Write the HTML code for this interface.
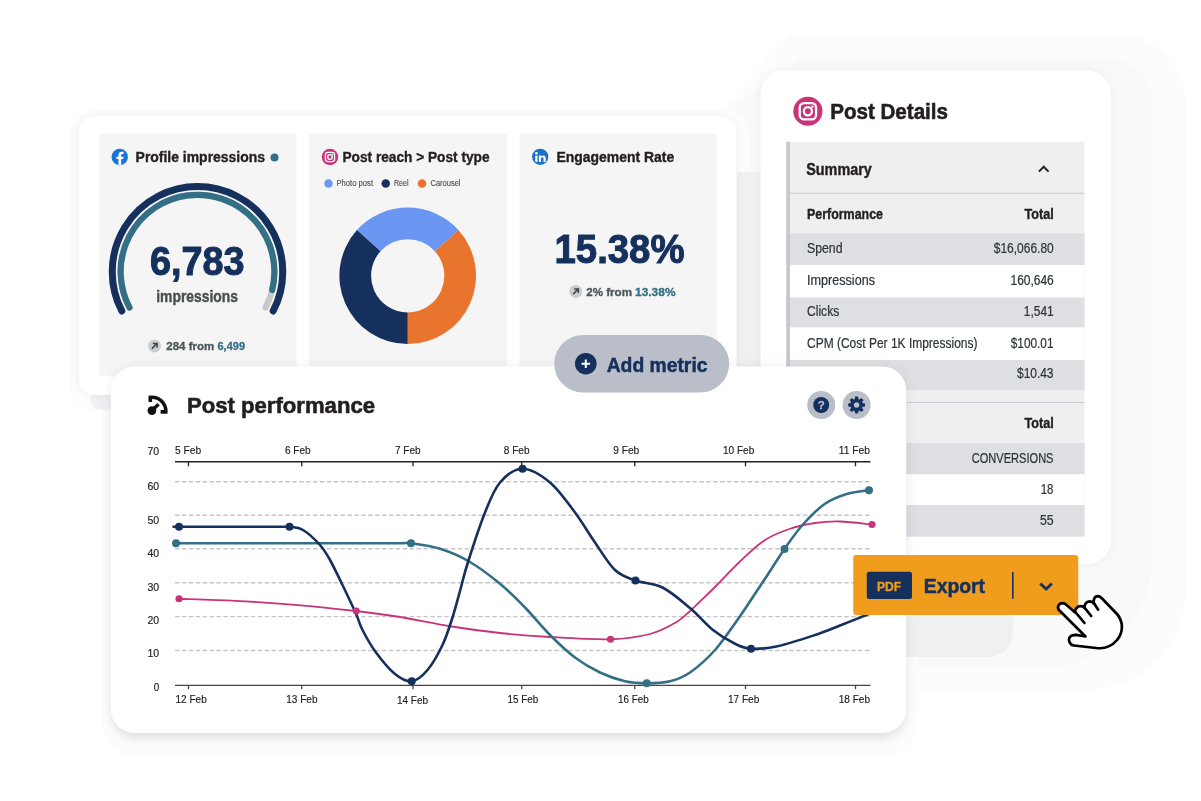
<!DOCTYPE html>
<html lang="en"><head><meta charset="utf-8"><title>Social analytics dashboard</title>
<style>
html,body{margin:0;padding:0;background:#fff;}
body{width:1201px;height:801px;overflow:hidden;position:relative;}
svg{position:absolute;left:0;top:0;display:block;}
text{font-family:"Liberation Sans",sans-serif;}
</style></head><body>
<svg width="1201" height="801" viewBox="0 0 1201 801">
<defs>
<filter id="sh1" x="-10%" y="-10%" width="120%" height="120%"><feGaussianBlur stdDeviation="7"/></filter>
<filter id="sh2" x="-10%" y="-10%" width="120%" height="120%"><feGaussianBlur stdDeviation="5"/></filter>
<filter id="sh3" x="-20%" y="-20%" width="140%" height="140%"><feGaussianBlur stdDeviation="14"/></filter>
</defs>
<rect width="1201" height="801" fill="#fff"/>

<g id="bg-shapes">
<path d="M790 34 H1116 A70 70 0 0 1 1186 104 V590 A100 100 0 0 1 1086 690 H722 V110 Z" fill="#fcfcfd"/>
<path d="M800 58 H1107 A45 45 0 0 1 1152 103 V560 A108 108 0 0 1 1044 668 H735 V104 Z" fill="#f9f9fa"/>
<rect x="70" y="110" width="680" height="300" rx="26" fill="#fcfcfd"/>
<rect x="102" y="356" width="815" height="399" rx="30" fill="#fcfcfd"/>
<path d="M737 172 H1013 V632 A25 25 0 0 1 988 657 H737 Z" fill="#eff0f2"/>
<rect x="91" y="300" width="300" height="110" rx="10" fill="#eff0f2"/>
</g>
<g id="metrics-card">
<rect x="79" y="116" width="657" height="279" rx="16" fill="#000" opacity="0.05" filter="url(#sh2)"/>
<rect x="79" y="116" width="657" height="279" rx="16" fill="#fff"/>
<rect x="99" y="133.75" width="197.5" height="242" fill="#f5f5f5"/>
<rect x="309.25" y="133.75" width="197.5" height="242" fill="#f5f5f5"/>
<rect x="519.5" y="133.75" width="197.5" height="242" fill="#f5f5f5"/>
<g id="panel-impressions">
<circle cx="119.75" cy="157" r="8.2" fill="#1a73d9"/>
<path d="M121.2 165.1 v-6 h2 l0.35 -2.4 h-2.35 v-1.5 c0-0.8 0.3-1.25 1.3-1.25 h1.15 v-2.15 c-0.3-0.05-1.0-0.12-1.85-0.12 c-2.0 0-3.3 1.2-3.3 3.3 v1.72 h-2.1 v2.4 h2.1 v6 z" fill="#fff"/>
<text x="135.60" y="162.00" font-size="13.9" font-weight="bold" fill="#231f20" textLength="129.40" lengthAdjust="spacingAndGlyphs" stroke="#231f20" stroke-width="0.36">Profile impressions</text>
<circle cx="274.5" cy="157.5" r="4" fill="#336f85"/>
<path d="M121.81 310.98 A85.25 85.25 0 1 1 273.19 310.98" fill="none" stroke="#15305c" stroke-width="7" stroke-linecap="round"/>
<path d="M129.48 307.62 A76.9 76.9 0 1 1 265.52 307.62" fill="none" stroke="#c9c9c9" stroke-width="6.2" stroke-linecap="round"/>
<path d="M129.48 307.62 A76.9 76.9 0 1 1 272.21 289.96" fill="none" stroke="#336f85" stroke-width="6.2" stroke-linecap="round"/>
<text x="150.00" y="275.00" font-size="40.9" font-weight="bold" fill="#15305c" textLength="94.50" lengthAdjust="spacingAndGlyphs" stroke="#15305c" stroke-width="1.06">6,783</text>
<text x="156.25" y="302.00" font-size="16.6" font-weight="bold" fill="#4a4f4f" textLength="81.75" lengthAdjust="spacingAndGlyphs" stroke="#4a4f4f" stroke-width="0.43">impressions</text>
<circle cx="154.5" cy="346" r="6.5" fill="#cbccce"/>
<path d="M151.9 348.6 L156.7 343.8 M152.9 343.4 H157.1 V347.6" fill="none" stroke="#3a4646" stroke-width="1.5"/>
<text x="166.25" y="350.00" font-size="11.7" font-weight="bold" fill="#4a5555" textLength="48.00" lengthAdjust="spacingAndGlyphs" stroke="#4a5555" stroke-width="0.30">284 from</text>
<text x="217.50" y="350.00" font-size="11.7" font-weight="bold" fill="#336f85" textLength="27.50" lengthAdjust="spacingAndGlyphs" stroke="#336f85" stroke-width="0.30">6,499</text>
</g>
<g id="panel-reach">
<circle cx="330" cy="157" r="8.25" fill="#c8347a"/>
<rect x="325.40" y="152.40" width="9.20" height="9.20" rx="2.50" fill="none" stroke="#fff" stroke-width="1.30"/>
<circle cx="330" cy="157" r="2.30" fill="none" stroke="#fff" stroke-width="1.30"/>
<circle cx="332.60" cy="154.40" r="0.65" fill="#fff"/>
<text x="342.50" y="162.00" font-size="13.9" font-weight="bold" fill="#231f20" textLength="147.00" lengthAdjust="spacingAndGlyphs" stroke="#231f20" stroke-width="0.36">Post reach &gt; Post type</text>
<circle cx="328.5" cy="183.5" r="4.25" fill="#6b97f2"/>
<text x="336.50" y="186.20" font-size="8.3" fill="#4e4e4e" textLength="36.50" lengthAdjust="spacingAndGlyphs" stroke="#4e4e4e" stroke-width="0.12">Photo post</text>
<circle cx="385.75" cy="183.5" r="4.25" fill="#15305c"/>
<text x="394.00" y="186.20" font-size="8.3" fill="#4e4e4e" textLength="14.50" lengthAdjust="spacingAndGlyphs" stroke="#4e4e4e" stroke-width="0.12">Reel</text>
<circle cx="422" cy="183.5" r="4.25" fill="#e8742e"/>
<text x="430.50" y="186.20" font-size="8.3" fill="#4e4e4e" textLength="30.00" lengthAdjust="spacingAndGlyphs" stroke="#4e4e4e" stroke-width="0.12">Carousel</text>
<path d="M356.94 230.10 A68.3 68.3 0 0 1 458.46 230.10 L434.90 251.31 A36.6 36.6 0 0 0 380.50 251.31 Z" fill="#6b97f2"/>
<path d="M458.46 230.10 A68.3 68.3 0 0 1 407.70 344.10 L407.70 312.40 A36.6 36.6 0 0 0 434.90 251.31 Z" fill="#e8742e"/>
<path d="M407.70 344.10 A68.3 68.3 0 0 1 356.94 230.10 L380.50 251.31 A36.6 36.6 0 0 0 407.70 312.40 Z" fill="#15305c"/>
</g>
<g id="panel-engagement">
<circle cx="540.2" cy="156.8" r="8.15" fill="#1a73c8"/>
<g fill="#fff"><rect x="535.3" y="155.6" width="2.2" height="6.3"/><circle cx="536.4" cy="153.3" r="1.3"/><path d="M538.9 155.6 h2.1 v0.9 c0.45-0.7 1.2-1.1 2.2-1.1 c1.7 0 2.5 1.1 2.5 3.0 v3.5 h-2.2 v-3.1 c0-0.9-0.35-1.45-1.1-1.45 c-0.9 0-1.4 0.6-1.4 1.55 v3.0 h-2.1 z"/></g>
<text x="556.50" y="162.00" font-size="13.9" font-weight="bold" fill="#231f20" textLength="117.75" lengthAdjust="spacingAndGlyphs" stroke="#231f20" stroke-width="0.36">Engagement Rate</text>
<text x="554.50" y="263.00" font-size="40.9" font-weight="bold" fill="#15305c" textLength="130.00" lengthAdjust="spacingAndGlyphs" stroke="#15305c" stroke-width="1.06">15.38%</text>
<circle cx="575.75" cy="291.5" r="6.5" fill="#cbccce"/>
<path d="M573.15 294.1 L577.95 289.3 M574.15 288.9 H578.35 V293.1" fill="none" stroke="#3a4646" stroke-width="1.5"/>
<text x="586.25" y="295.80" font-size="11.7" font-weight="bold" fill="#4a5555" textLength="45.75" lengthAdjust="spacingAndGlyphs" stroke="#4a5555" stroke-width="0.30">2% from</text>
<text x="635.00" y="295.80" font-size="11.7" font-weight="bold" fill="#336f85" textLength="40.50" lengthAdjust="spacingAndGlyphs" stroke="#336f85" stroke-width="0.30">13.38%</text>
</g>
</g>
<g id="post-details">
<rect x="760.5" y="70.5" width="350.5" height="494" rx="24" fill="#000" opacity="0.05" filter="url(#sh2)"/>
<rect x="760.5" y="70.5" width="350.5" height="494" rx="24" fill="#fff"/>
<circle cx="807.9" cy="111.25" r="14.6" fill="#c8347a"/>
<rect x="799.76" y="103.11" width="16.28" height="16.28" rx="4.42" fill="none" stroke="#fff" stroke-width="2.30"/>
<circle cx="807.9" cy="111.25" r="4.07" fill="none" stroke="#fff" stroke-width="2.30"/>
<circle cx="812.50" cy="106.65" r="1.15" fill="#fff"/>
<text x="830.20" y="118.50" font-size="21.4" font-weight="bold" fill="#231f20" textLength="117.80" lengthAdjust="spacingAndGlyphs" stroke="#231f20" stroke-width="0.56">Post Details</text>
<rect x="786.25" y="141.75" width="298.25" height="395" fill="#efefef"/>
<rect x="786.25" y="233.25" width="298.25" height="31.75" fill="#dedfe3"/>
<rect x="786.25" y="265" width="298.25" height="32.5" fill="#fff"/>
<rect x="786.25" y="297.5" width="298.25" height="30.0" fill="#dedfe3"/>
<rect x="786.25" y="327.5" width="298.25" height="32.5" fill="#fff"/>
<rect x="786.25" y="360" width="298.25" height="30" fill="#dedfe3"/>
<rect x="786.25" y="443" width="298.25" height="31.25" fill="#dedfe3"/>
<rect x="786.25" y="474.25" width="298.25" height="30.75" fill="#fff"/>
<rect x="786.25" y="505" width="298.25" height="31.5" fill="#dedfe3"/>
<rect x="786.25" y="141.75" width="3.75" height="394.75" fill="#c6c8cd"/>
<rect x="790.0" y="192.75" width="294.5" height="1" fill="#c9ccd1"/>
<rect x="790.0" y="402" width="294.5" height="1" fill="#c9ccd1"/>
<text x="806.25" y="174.50" font-size="16.3" font-weight="bold" fill="#231f20" textLength="65.50" lengthAdjust="spacingAndGlyphs" stroke="#231f20" stroke-width="0.42">Summary</text>
<path d="M1038.9 171.6 L1043.75 166.7 L1048.6 171.6" fill="none" stroke="#231f20" stroke-width="2"/>
<text x="807.00" y="218.75" font-size="14.5" font-weight="bold" fill="#231f20" textLength="76.00" lengthAdjust="spacingAndGlyphs" stroke="#231f20" stroke-width="0.38">Performance</text>
<text x="1024.50" y="218.75" font-size="14.5" font-weight="bold" fill="#231f20" textLength="29.25" lengthAdjust="spacingAndGlyphs" stroke="#231f20" stroke-width="0.38">Total</text>
<text x="807.00" y="253.25" font-size="13.8" fill="#2c3439" textLength="35.50" lengthAdjust="spacingAndGlyphs" stroke="#2c3439" stroke-width="0.21">Spend</text>
<text x="993.75" y="253.25" font-size="13.8" fill="#2c3439" textLength="60.00" lengthAdjust="spacingAndGlyphs" stroke="#2c3439" stroke-width="0.21">$16,066.80</text>
<text x="807.00" y="285.00" font-size="13.8" fill="#2c3439" textLength="68.00" lengthAdjust="spacingAndGlyphs" stroke="#2c3439" stroke-width="0.21">Impressions</text>
<text x="1010.50" y="285.00" font-size="13.8" fill="#2c3439" textLength="43.25" lengthAdjust="spacingAndGlyphs" stroke="#2c3439" stroke-width="0.21">160,646</text>
<text x="807.00" y="316.25" font-size="13.8" fill="#2c3439" textLength="32.25" lengthAdjust="spacingAndGlyphs" stroke="#2c3439" stroke-width="0.21">Clicks</text>
<text x="1023.75" y="316.00" font-size="13.8" fill="#2c3439" textLength="30.00" lengthAdjust="spacingAndGlyphs" stroke="#2c3439" stroke-width="0.21">1,541</text>
<text x="807.00" y="347.50" font-size="13.8" fill="#2c3439" textLength="170.50" lengthAdjust="spacingAndGlyphs" stroke="#2c3439" stroke-width="0.21">CPM (Cost Per 1K Impressions)</text>
<text x="1010.75" y="347.50" font-size="13.8" fill="#2c3439" textLength="42.75" lengthAdjust="spacingAndGlyphs" stroke="#2c3439" stroke-width="0.21">$100.01</text>
<text x="1017.00" y="378.25" font-size="13.8" fill="#2c3439" textLength="36.50" lengthAdjust="spacingAndGlyphs" stroke="#2c3439" stroke-width="0.21">$10.43</text>
<text x="1024.50" y="427.50" font-size="14.5" font-weight="bold" fill="#231f20" textLength="29.25" lengthAdjust="spacingAndGlyphs" stroke="#231f20" stroke-width="0.38">Total</text>
<text x="971.75" y="462.50" font-size="13.8" fill="#2c3439" textLength="81.75" lengthAdjust="spacingAndGlyphs" stroke="#2c3439" stroke-width="0.21">CONVERSIONS</text>
<text x="1040.75" y="494.00" font-size="13.8" fill="#2c3439" textLength="12.75" lengthAdjust="spacingAndGlyphs" stroke="#2c3439" stroke-width="0.21">18</text>
<text x="1040.00" y="525.00" font-size="13.8" fill="#2c3439" textLength="13.75" lengthAdjust="spacingAndGlyphs" stroke="#2c3439" stroke-width="0.21">55</text>
</g>
<g id="post-performance">
<rect x="110.75" y="366.5" width="795.5" height="366.5" rx="24" fill="#000" opacity="0.06" filter="url(#sh1)"/>
<rect x="112.75" y="380" width="791.5" height="359" rx="24" fill="#000" opacity="0.075" filter="url(#sh2)"/>
<rect x="110.75" y="366.5" width="795.5" height="366.5" rx="24" fill="#fff"/>
<g fill="none" stroke="#111" stroke-width="3.6">
<path d="M150.3 402 V397.3 A13.9 13.9 0 0 1 165.8 411.9 H160.6"/>
<path d="M151.9 410.6 L158.6 404.3" stroke-width="3.4"/>
</g><circle cx="151.9" cy="410.6" r="4.4" fill="#111"/>
<text x="187.00" y="413.20" font-size="21.7" font-weight="bold" fill="#231f20" textLength="188.00" lengthAdjust="spacingAndGlyphs" stroke="#231f20" stroke-width="0.56">Post performance</text>
<circle cx="821.2" cy="405" r="14" fill="#b9bec9"/>
<circle cx="821.2" cy="405" r="8" fill="#15305c"/>
<text x="821.20" y="409.00" font-size="11.5" font-weight="bold" text-anchor="middle" fill="#b9bec9" stroke="#b9bec9" stroke-width="0.30">?</text>
<circle cx="856.6" cy="405" r="14" fill="#b9bec9"/>
<g fill="#15305c"><rect x="854.9" y="396.6" width="3.4" height="4" rx="0.8" transform="rotate(0 856.6 405)"/><rect x="854.9" y="396.6" width="3.4" height="4" rx="0.8" transform="rotate(45 856.6 405)"/><rect x="854.9" y="396.6" width="3.4" height="4" rx="0.8" transform="rotate(90 856.6 405)"/><rect x="854.9" y="396.6" width="3.4" height="4" rx="0.8" transform="rotate(135 856.6 405)"/><rect x="854.9" y="396.6" width="3.4" height="4" rx="0.8" transform="rotate(180 856.6 405)"/><rect x="854.9" y="396.6" width="3.4" height="4" rx="0.8" transform="rotate(225 856.6 405)"/><rect x="854.9" y="396.6" width="3.4" height="4" rx="0.8" transform="rotate(270 856.6 405)"/><rect x="854.9" y="396.6" width="3.4" height="4" rx="0.8" transform="rotate(315 856.6 405)"/><circle cx="856.6" cy="405" r="6.3"/></g><circle cx="856.6" cy="405" r="2.8" fill="#b9bec9"/>
<text x="147.50" y="454.60" font-size="10.9" fill="#222" textLength="11.75" lengthAdjust="spacingAndGlyphs" stroke="#222" stroke-width="0.16">70</text>
<text x="147.50" y="490.35" font-size="10.9" fill="#222" textLength="11.75" lengthAdjust="spacingAndGlyphs" stroke="#222" stroke-width="0.16">60</text>
<text x="147.50" y="523.85" font-size="10.9" fill="#222" textLength="11.75" lengthAdjust="spacingAndGlyphs" stroke="#222" stroke-width="0.16">50</text>
<text x="147.50" y="557.10" font-size="10.9" fill="#222" textLength="11.75" lengthAdjust="spacingAndGlyphs" stroke="#222" stroke-width="0.16">40</text>
<text x="147.50" y="590.60" font-size="10.9" fill="#222" textLength="11.75" lengthAdjust="spacingAndGlyphs" stroke="#222" stroke-width="0.16">30</text>
<text x="147.50" y="624.00" font-size="10.9" fill="#222" textLength="11.75" lengthAdjust="spacingAndGlyphs" stroke="#222" stroke-width="0.16">20</text>
<text x="147.50" y="657.10" font-size="10.9" fill="#222" textLength="11.75" lengthAdjust="spacingAndGlyphs" stroke="#222" stroke-width="0.16">10</text>
<text x="153.75" y="691.30" font-size="10.9" fill="#222" textLength="5.50" lengthAdjust="spacingAndGlyphs" stroke="#222" stroke-width="0.16">0</text>
<text x="175.00" y="454.20" font-size="10.9" fill="#222" textLength="26.25" lengthAdjust="spacingAndGlyphs" stroke="#222" stroke-width="0.16">5 Feb</text>
<text x="285.00" y="454.20" font-size="10.9" fill="#222" textLength="25.50" lengthAdjust="spacingAndGlyphs" stroke="#222" stroke-width="0.16">6 Feb</text>
<text x="395.00" y="454.20" font-size="10.9" fill="#222" textLength="25.50" lengthAdjust="spacingAndGlyphs" stroke="#222" stroke-width="0.16">7 Feb</text>
<text x="503.75" y="454.20" font-size="10.9" fill="#222" textLength="25.75" lengthAdjust="spacingAndGlyphs" stroke="#222" stroke-width="0.16">8 Feb</text>
<text x="613.25" y="454.20" font-size="10.9" fill="#222" textLength="26.00" lengthAdjust="spacingAndGlyphs" stroke="#222" stroke-width="0.16">9 Feb</text>
<text x="723.00" y="454.20" font-size="10.9" fill="#222" textLength="31.25" lengthAdjust="spacingAndGlyphs" stroke="#222" stroke-width="0.16">10 Feb</text>
<text x="838.75" y="454.20" font-size="10.9" fill="#222" textLength="31.25" lengthAdjust="spacingAndGlyphs" stroke="#222" stroke-width="0.16">11 Feb</text>
<text x="175.50" y="703.00" font-size="10.9" fill="#222" textLength="31.25" lengthAdjust="spacingAndGlyphs" stroke="#222" stroke-width="0.16">12 Feb</text>
<text x="286.25" y="703.00" font-size="10.9" fill="#222" textLength="31.25" lengthAdjust="spacingAndGlyphs" stroke="#222" stroke-width="0.16">13 Feb</text>
<text x="397.00" y="704.25" font-size="10.9" fill="#222" textLength="31.00" lengthAdjust="spacingAndGlyphs" stroke="#222" stroke-width="0.16">14 Feb</text>
<text x="507.50" y="703.00" font-size="10.9" fill="#222" textLength="30.75" lengthAdjust="spacingAndGlyphs" stroke="#222" stroke-width="0.16">15 Feb</text>
<text x="618.00" y="703.00" font-size="10.9" fill="#222" textLength="30.75" lengthAdjust="spacingAndGlyphs" stroke="#222" stroke-width="0.16">16 Feb</text>
<text x="728.00" y="703.00" font-size="10.9" fill="#222" textLength="31.25" lengthAdjust="spacingAndGlyphs" stroke="#222" stroke-width="0.16">17 Feb</text>
<text x="838.75" y="703.00" font-size="10.9" fill="#222" textLength="31.25" lengthAdjust="spacingAndGlyphs" stroke="#222" stroke-width="0.16">18 Feb</text>
<path d="M175 481.75 H870.5" stroke="#c6c6c6" stroke-width="1.4" stroke-dasharray="4.4 2.5" fill="none"/>
<path d="M175 515.25 H870.5" stroke="#c6c6c6" stroke-width="1.4" stroke-dasharray="4.4 2.5" fill="none"/>
<path d="M175 548.75 H870.5" stroke="#c6c6c6" stroke-width="1.4" stroke-dasharray="4.4 2.5" fill="none"/>
<path d="M175 582.75 H870.5" stroke="#c6c6c6" stroke-width="1.4" stroke-dasharray="4.4 2.5" fill="none"/>
<path d="M175 616.6 H870.5" stroke="#c6c6c6" stroke-width="1.4" stroke-dasharray="4.4 2.5" fill="none"/>
<path d="M175 650.5 H870.5" stroke="#c6c6c6" stroke-width="1.4" stroke-dasharray="4.4 2.5" fill="none"/>
<path d="M175 461.75 H870.5 M188.5 461.75 v4.5 M301.75 461.75 v4.5 M413 461.75 v4.5 M521.75 461.75 v4.5 M634.75 461.75 v4.5 M745.5 461.75 v4.5 M855.5 461.75 v4.5" stroke="#222" stroke-width="1.3" fill="none"/>
<path d="M175 685.3 H870.5 M188.5 685.3 v4 M301.75 685.3 v4 M413 685.3 v4 M521.75 685.3 v4 M634.75 685.3 v4 M745.5 685.3 v4 M855.5 685.3 v4" stroke="#444" stroke-width="1.25" fill="none"/>
<path d="M179.00 598.75 C188.33 599.09 215.67 599.79 235.00 600.80 C254.33 601.81 274.79 603.10 295.00 604.80 C315.21 606.50 338.75 608.97 356.25 611.00 C373.75 613.03 384.38 614.46 400.00 617.00 C415.62 619.54 433.33 623.58 450.00 626.25 C466.67 628.92 483.33 631.21 500.00 633.00 C516.67 634.79 531.58 635.96 550.00 637.00 C568.42 638.04 593.83 639.75 610.50 639.25 C627.17 638.75 639.25 636.71 650.00 634.00 C660.75 631.29 668.33 626.83 675.00 623.00 C681.67 619.17 685.83 614.58 690.00 611.00 C694.17 607.42 695.83 605.50 700.00 601.50 C704.17 597.50 708.33 593.67 715.00 587.00 C721.67 580.33 731.67 569.33 740.00 561.50 C748.33 553.67 756.67 545.46 765.00 540.00 C773.33 534.54 781.67 531.58 790.00 528.75 C798.33 525.92 806.67 524.21 815.00 523.00 C823.33 521.79 830.50 521.25 840.00 521.50 C849.50 521.75 866.67 524.00 872.00 524.50" fill="none" stroke="#c8347a" stroke-width="1.8"/>
<path d="M176.00 543.25 C188.33 543.25 224.33 543.25 250.00 543.25 C275.67 543.25 305.00 543.25 330.00 543.25 C355.00 543.25 386.50 543.25 400.00 543.25 C413.50 543.25 404.33 542.33 411.00 543.25 C417.67 544.17 430.38 545.75 440.00 548.75 C449.62 551.75 458.75 555.42 468.75 561.25 C478.75 567.08 490.62 576.04 500.00 583.75 C509.38 591.46 516.67 598.96 525.00 607.50 C533.33 616.04 541.67 626.67 550.00 635.00 C558.33 643.33 566.67 651.25 575.00 657.50 C583.33 663.75 591.67 668.54 600.00 672.50 C608.33 676.46 617.21 679.46 625.00 681.25 C632.79 683.04 639.25 683.25 646.75 683.25 C654.25 683.25 662.79 683.04 670.00 681.25 C677.21 679.46 682.50 677.71 690.00 672.50 C697.50 667.29 706.67 659.38 715.00 650.00 C723.33 640.62 732.92 626.25 740.00 616.25 C747.08 606.25 753.33 596.25 757.50 590.00 C761.67 583.75 760.50 585.58 765.00 578.75 C769.50 571.92 778.25 557.96 784.50 549.00 C790.75 540.04 795.75 532.54 802.50 525.00 C809.25 517.46 817.50 508.96 825.00 503.75 C832.50 498.54 840.17 496.00 847.50 493.75 C854.83 491.50 865.42 490.83 869.00 490.25" fill="none" stroke="#336f85" stroke-width="2.6"/>
<path d="M174.50 526.75 C175.25 526.75 169.75 526.75 179.00 526.75 C188.25 526.75 213.17 526.75 230.00 526.75 C246.83 526.75 270.08 526.75 280.00 526.75 C289.92 526.75 285.67 526.21 289.50 526.75 C293.33 527.29 297.92 526.96 303.00 530.00 C308.08 533.04 315.50 540.00 320.00 545.00 C324.50 550.00 326.25 553.33 330.00 560.00 C333.75 566.67 338.17 576.04 342.50 585.00 C346.83 593.96 352.67 606.25 356.00 613.75 C359.33 621.25 359.17 623.54 362.50 630.00 C365.83 636.46 370.58 645.17 376.00 652.50 C381.42 659.83 389.04 669.21 395.00 674.00 C400.96 678.79 406.33 681.92 411.75 681.25 C417.17 680.58 422.38 676.04 427.50 670.00 C432.62 663.96 438.33 653.75 442.50 645.00 C446.67 636.25 449.58 626.50 452.50 617.50 C455.42 608.50 457.42 600.25 460.00 591.00 C462.58 581.75 463.83 575.08 468.00 562.00 C472.17 548.92 479.67 525.75 485.00 512.50 C490.33 499.25 493.75 489.79 500.00 482.50 C506.25 475.21 514.17 468.75 522.50 468.75 C530.83 468.75 541.25 475.21 550.00 482.50 C558.75 489.79 567.50 502.50 575.00 512.50 C582.50 522.50 588.33 532.92 595.00 542.50 C601.67 552.08 608.25 563.67 615.00 570.00 C621.75 576.33 627.58 577.58 635.50 580.50 C643.42 583.42 653.42 582.92 662.50 587.50 C671.58 592.08 681.58 600.92 690.00 608.00 C698.42 615.08 705.50 624.04 713.00 630.00 C720.50 635.96 728.67 640.62 735.00 643.75 C741.33 646.88 743.92 648.33 751.00 648.75 C758.08 649.17 766.83 648.54 777.50 646.25 C788.17 643.96 804.58 638.46 815.00 635.00 C825.42 631.54 831.04 629.00 840.00 625.50 C848.96 622.00 863.96 615.92 868.75 614.00" fill="none" stroke="#15305c" stroke-width="2.6"/>
<circle cx="179" cy="598.75" r="3.6" fill="#c8347a"/>
<circle cx="356.25" cy="611" r="3.6" fill="#c8347a"/>
<circle cx="610.5" cy="639.25" r="3.6" fill="#c8347a"/>
<circle cx="872" cy="524.5" r="3.6" fill="#c8347a"/>
<circle cx="176" cy="543.25" r="4" fill="#336f85"/>
<circle cx="411" cy="543.25" r="4" fill="#336f85"/>
<circle cx="646.75" cy="683.25" r="4" fill="#336f85"/>
<circle cx="784.5" cy="549" r="4" fill="#336f85"/>
<circle cx="869" cy="490.25" r="4" fill="#336f85"/>
<circle cx="179" cy="526.75" r="4" fill="#15305c"/>
<circle cx="289.5" cy="526.75" r="4" fill="#15305c"/>
<circle cx="411.75" cy="681.25" r="4" fill="#15305c"/>
<circle cx="522.5" cy="468.75" r="4" fill="#15305c"/>
<circle cx="635.5" cy="580.5" r="4" fill="#15305c"/>
<circle cx="751" cy="648.75" r="4" fill="#15305c"/>
</g>
<g id="add-metric">
<rect x="554.2" y="335" width="175" height="57.5" rx="28.75" fill="#b9bec9"/>
<circle cx="585.8" cy="363.7" r="10.8" fill="#15305c"/>
<path d="M581.5 363.7 H590.1 M585.8 359.4 V368" stroke="#fff" stroke-width="2" fill="none"/>
<text x="606.70" y="371.70" font-size="19.7" font-weight="bold" fill="#15305c" textLength="100.80" lengthAdjust="spacingAndGlyphs" stroke="#15305c" stroke-width="0.51">Add metric</text>
</g>
<g id="export">
<rect x="853.25" y="555" width="225" height="60" rx="3" fill="#f09d1e"/>
<rect x="866.75" y="571.75" width="45.25" height="27.25" rx="2.5" fill="#15305c"/>
<text x="877.00" y="590.50" font-size="12.7" font-weight="bold" fill="#f09d1e" textLength="24.25" lengthAdjust="spacingAndGlyphs" stroke="#f09d1e" stroke-width="0.33">PDF</text>
<text x="923.75" y="593.20" font-size="19.6" font-weight="bold" fill="#15305c" textLength="61.25" lengthAdjust="spacingAndGlyphs" stroke="#15305c" stroke-width="0.51">Export</text>
<rect x="1012" y="572" width="1.6" height="26.75" fill="#15305c"/>
<path d="M1040.3 583.5 L1046.1 589.0 L1051.9 583.5" fill="none" stroke="#15305c" stroke-width="2.9"/>
</g>
<g id="cursor" transform="translate(1040 580) scale(0.1)">
<path d="M190 300 C168 275 185 233 225 232 C245 232 255 240 265 250 L348 322 C350 290 375 262 405 262 C422 262 435 268 445 280 C440 245 465 214 495 213 C515 213 530 222 540 236 C528 200 545 163 578 162 C595 162 607 172 618 183 L770 340 C830 410 840 520 770 600 C720 660 640 690 560 680 L340 655 C290 650 280 590 300 570 C310 552 340 548 360 548 L455 565 Z" fill="#fff" stroke="#000" stroke-width="27" stroke-linejoin="round"/>
<path d="M540 232 L582 297 M445 276 L512 360 M352 318 L445 430" fill="none" stroke="#000" stroke-width="27" stroke-linecap="round"/>
</g>
</svg></body></html>
